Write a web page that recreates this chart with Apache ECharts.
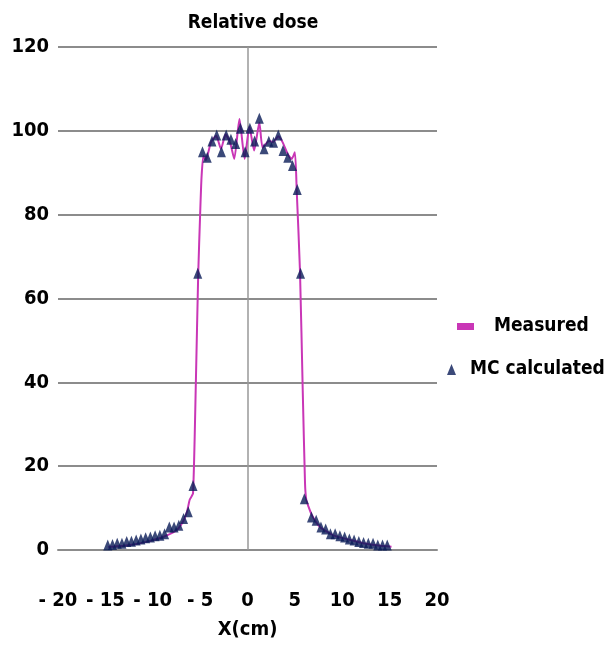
<!DOCTYPE html>
<html>
<head>
<meta charset="utf-8">
<script src="https://cdn.jsdelivr.net/npm/echarts@6/dist/echarts.min.js"></script>
<style>
  html, body { margin: 0; padding: 0; background: #fff; }
  #chart { width: 609px; height: 645px; }
</style>
</head>
<body>
<div id="chart"></div>
<script>
// MC calculated points (x in cm, relative dose)
const mcX = [-14.75, -14.25, -13.75, -13.25, -12.75, -12.25, -11.75, -11.25, -10.75, -10.25,
  -9.75, -9.25, -8.75, -8.25, -7.75, -7.25, -6.75, -6.25, -5.75, -5.25,
  -4.75, -4.25, -3.75, -3.25, -2.75, -2.25, -1.75, -1.25, -0.75, -0.25,
  0.25, 0.75, 1.25, 1.75, 2.25, 2.75, 3.25, 3.75, 4.25, 4.75,
  5.25, 5.6, 6.0, 6.75, 7.25, 7.75, 8.25, 8.75, 9.25, 9.75,
  10.25, 10.75, 11.25, 11.75, 12.25, 12.75, 13.25, 13.75, 14.25, 14.75];
const mcY = [1.2, 1.3, 1.6, 1.6, 2.0, 2.1, 2.4, 2.6, 2.9, 3.1,
  3.4, 3.5, 3.9, 5.5, 5.5, 5.9, 7.5, 9.1, 15.4, 66,
  95, 93.7, 97.6, 99, 95, 99, 98, 97, 100.6, 95,
  100.6, 97.6, 103, 95.7, 97.5, 97.3, 99, 95.3, 93.7, 91.7,
  86, 66, 12.2, 7.9, 7.1, 5.5, 5.0, 3.9, 3.9, 3.4,
  3.1, 2.6, 2.4, 2.0, 1.8, 1.6, 1.6, 1.2, 1.2, 1.2];

// Measured profile
const measX = [-14.7, -14.2, -12.4, -10.6, -8.9, -7.5, -6.8, -6.4, -6.1, -5.75,
  -5.45, -5.2, -5.0, -4.85, -4.65, -4.4, -3.85, -3.3, -2.8, -2.3,
  -1.8, -1.4, -0.85, -0.3, 0.2, 0.7, 1.25, 1.6, 2.27, 2.7,
  3.25, 3.7, 4.24, 4.66, 5.0, 5.2, 5.54, 5.83, 6.07, 6.2,
  6.4, 6.8, 7.65, 9.06, 10.5, 12.2, 14.0, 15.2];
const measY = [0.7, 0.8, 1.2, 2.0, 3.1, 4.7, 6.8, 9, 12, 13.5,
  40, 66, 80, 89, 94, 93, 97.3, 98.8, 95.7, 99.2,
  96.9, 93.3, 102.8, 93.3, 101, 95.3, 102, 96, 97.6, 97.3,
  98.7, 97.3, 94.5, 93.3, 94.9, 85.4, 66.5, 38, 16, 12,
  10.6, 8.3, 5.5, 3.5, 2.6, 1.6, 1.0, 0.8];

const xTicks = [-20, -15, -10, -5, 0, 5, 10, 15, 20];
const yTicks = [0, 20, 40, 60, 80, 100, 120];

const font = "'DejaVu Sans Condensed', 'Liberation Sans Narrow', sans-serif";
const gridGray = '#8c8c8c';

const chart = echarts.init(document.getElementById('chart'));

const option = {
  animation: false,
  backgroundColor: '#fff',
  title: {
    text: 'Relative dose',
    left: 248,
    top: 9,
    textAlign: 'center',
    textStyle: { fontFamily: font, fontWeight: 'bold', fontSize: 19, color: '#000' }
  },
  legend: [
    {
      data: ['Measured'],
      left: 452,
      top: 312,
      icon: 'rect',
      itemWidth: 17,
      itemHeight: 7,
      itemGap: 0,
      textStyle: { fontFamily: font, fontWeight: 'bold', fontSize: 19, color: '#000', padding: [0, 0, 0, 15] }
    },
    {
      data: ['MC calculated'],
      left: 442,
      top: 355,
      icon: 'triangle',
      itemWidth: 9,
      itemHeight: 11,
      textStyle: { fontFamily: font, fontWeight: 'bold', fontSize: 19, color: '#000', padding: [0, 0, 0, 9] }
    }
  ],
  grid: { left: 58, right: 172, top: 47, bottom: 90, containLabel: false },
  xAxis: {
    type: 'value',
    min: xTicks[0],
    max: xTicks[xTicks.length - 1],
    interval: 5,
    name: 'X(cm)',
    nameLocation: 'middle',
    nameGap: 70,
    nameTextStyle: { fontFamily: font, fontWeight: 'bold', fontSize: 20, color: '#000' },
    axisLine: { show: true, lineStyle: { color: gridGray, width: 2 } },
    axisTick: { show: false },
    splitLine: { show: false },
    axisLabel: {
      margin: 41,
      fontFamily: font,
      fontWeight: 'bold',
      fontSize: 20,
      color: '#000',
      formatter: v => (v < 0 ? '- ' + Math.abs(v) : String(v))
    }
  },
  yAxis: {
    type: 'value',
    min: yTicks[0],
    max: yTicks[yTicks.length - 1],
    interval: 20,
    axisLine: { show: false },
    axisTick: { show: false },
    splitLine: { show: true, lineStyle: { color: gridGray, width: 2 } },
    axisLabel: {
      margin: 9,
      fontFamily: font,
      fontWeight: 'bold',
      fontSize: 20,
      color: '#000'
    }
  },
  series: [
    {
      name: 'Measured',
      type: 'line',
      data: measX.map((x, i) => [x, measY[i]]),
      showSymbol: false,
      smooth: 0.2,
      itemStyle: { color: '#C936B6' },
      lineStyle: { color: '#C936B6', width: 2 },
      z: 3,
      markLine: {
        silent: true,
        symbol: 'none',
        label: { show: false },
        lineStyle: { color: '#999', width: 1.5, type: 'solid' },
        data: [{ xAxis: 0 }],
        z: 1
      }
    },
    {
      name: 'MC calculated',
      type: 'scatter',
      data: mcX.map((x, i) => [x, mcY[i]]),
      symbol: 'triangle',
      symbolSize: [9, 11],
      itemStyle: { color: '#0A1C58' },
      z: 4
    }
  ]
};

chart.setOption(option);
window.addEventListener('resize', () => chart.resize());
</script>
</body>
</html>
